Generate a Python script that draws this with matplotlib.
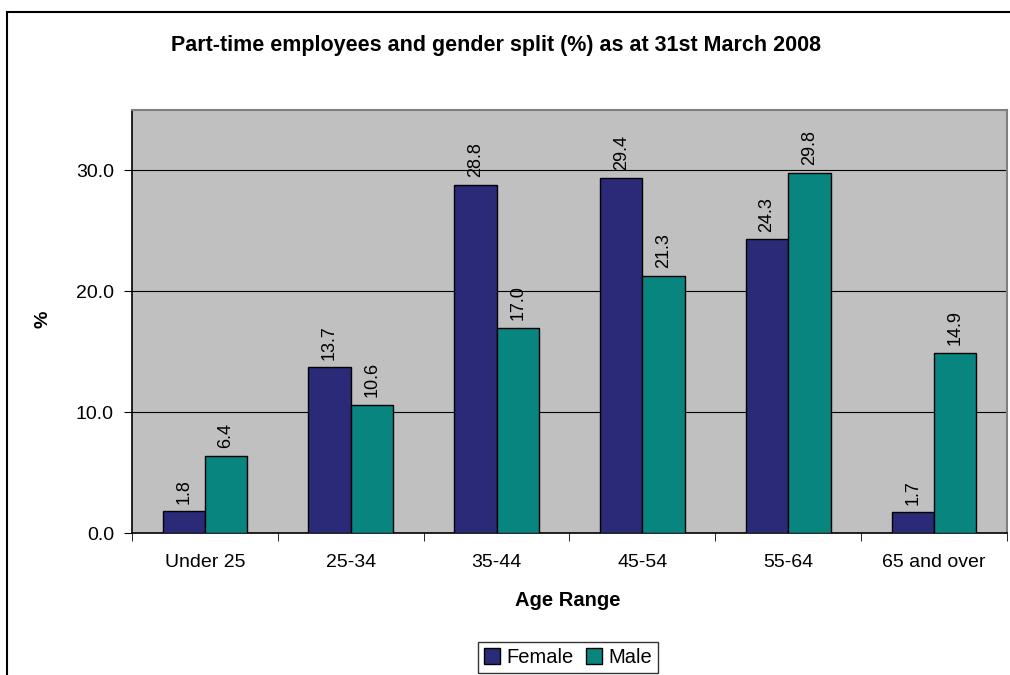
import numpy as np
import matplotlib.pyplot as plt
from matplotlib.patches import Rectangle

plt.rcParams['font.family'] = ['Liberation Sans', 'DejaVu Sans']

age_ranges = ["Under 25", "25-34", "35-44", "45-54", "55-64", "65 and over"]
female = [1.8, 13.7, 28.8, 29.4, 24.3, 1.7]
male = [6.4, 10.6, 17.0, 21.3, 29.8, 14.9]

fig = plt.figure(figsize=(10.1, 6.75), dpi=100)
ax = fig.add_axes([132 / 1010, 1 - 533 / 675, 875 / 1010, 423 / 675])

# outer chart frame (cut off on right and bottom like the original)
fig.patches.append(Rectangle((7 / 1010, -0.05), 1.2, 1 - 12 / 675 + 0.05,
                             transform=fig.transFigure, fill=False,
                             edgecolor="black", linewidth=1.5))

x = np.arange(len(age_ranges))
w = 0.29
b1 = ax.bar(x - w / 2, female, w, color="#2A2A78", edgecolor="black",
            linewidth=1, label="Female", zorder=3)
b2 = ax.bar(x + w / 2, male, w, color="#098580", edgecolor="black",
            linewidth=1, label="Male", zorder=3)

for bars, vals in [(b1, female), (b2, male)]:
    for rect, v in zip(bars, vals):
        ax.annotate(f"{v:.1f}", (rect.get_x() + rect.get_width() / 2, v),
                    xytext=(0, 5.5), textcoords="offset points",
                    rotation=90, ha="center", va="bottom", fontsize=13)

ax.set_facecolor("#C0C0C0")
ax.set_xlim(-0.5, len(age_ranges) - 0.5)
ax.set_ylim(0, 35)
ax.set_yticks([0, 10, 20, 30])
ax.set_yticklabels([f"{t:.1f}" for t in [0, 10, 20, 30]], fontsize=14)
ax.yaxis.grid(True, color="black", linewidth=0.8, zorder=1)
ax.set_axisbelow(True)

ax.set_xticks(x)
ax.set_xticklabels(age_ranges, fontsize=14)
ax.set_xticks(np.arange(len(age_ranges) + 1) - 0.5, minor=True)
ax.tick_params(axis="x", which="major", length=0, pad=15)
ax.tick_params(axis="x", which="minor", length=6, direction="out")
ax.tick_params(axis="y", length=6, direction="out", pad=7)

for s in ["top", "right"]:
    ax.spines[s].set_color("#808080")
    ax.spines[s].set_linewidth(1.5)
ax.spines["left"].set_linewidth(1.2)
ax.spines["bottom"].set_linewidth(1.2)

fig.text(496 / 1010, 1 - 45 / 675, "Part-time employees and gender split (%) as at 31st March 2008",
         ha="center", va="center", fontsize=15.5, fontweight="bold")
fig.text(43 / 1010, 1 - 319 / 675, "%", rotation=90, ha="center", va="center",
         fontsize=14, fontweight="bold")
fig.text(568 / 1010, 1 - 601 / 675, "Age Range", ha="center", va="center",
         fontsize=14.5, fontweight="bold")

leg = fig.legend(loc="lower center", bbox_to_anchor=(568 / 1010, -0.012), ncol=2,
                 fontsize=14.5, frameon=True, fancybox=False, edgecolor="black",
                 handlelength=0.8, handleheight=0.8, handletextpad=0.3,
                 columnspacing=0.6, borderpad=0.3)
leg.get_frame().set_linewidth(1)

fig.savefig("out.png", dpi=100)
